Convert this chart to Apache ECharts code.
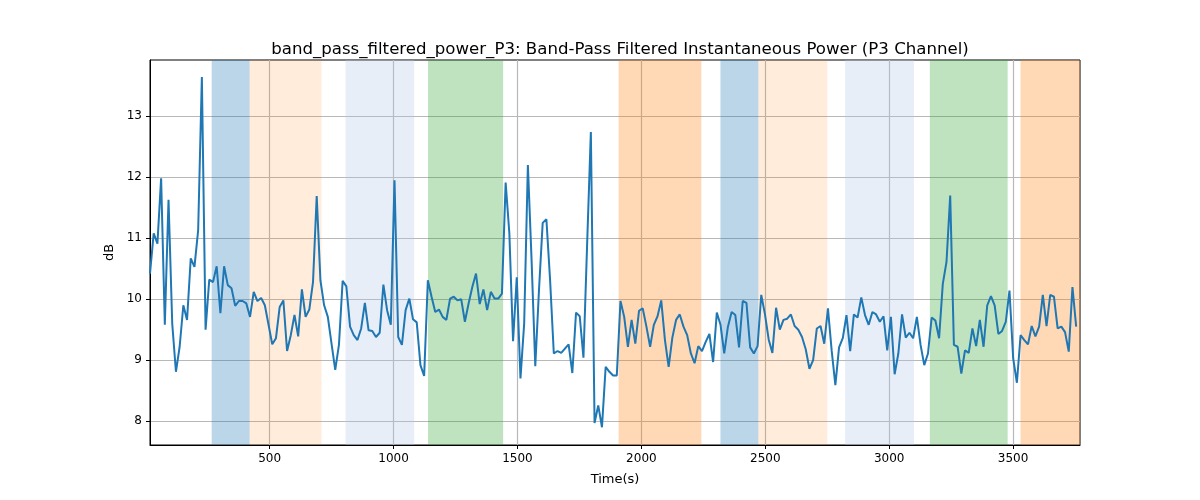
<!DOCTYPE html>
<html>
<head>
<meta charset="utf-8">
<script src="https://cdn.jsdelivr.net/npm/echarts@6/dist/echarts.min.js"></script>
<style>html,body{margin:0;padding:0;background:#fff}#main{width:1200px;height:500px}</style>
</head>
<body>
<div id="main"></div>
<script>
// sample grid
var tStart = 17, tStep = 14.95;
var power = [
  10.42,11.08,10.91,11.98,9.58,11.63,9.60,8.81,9.22,9.90,9.66,10.67,10.53,11.13,13.64,9.50,10.32,10.28,10.54,9.77,
  10.54,10.23,10.18,9.89,9.97,9.97,9.93,9.71,10.12,9.97,10.02,9.90,9.58,9.26,9.36,9.87,9.98,9.15,9.41,9.74,
  9.39,10.16,9.71,9.83,10.28,11.69,10.31,9.90,9.71,9.27,8.84,9.25,10.30,10.21,9.55,9.41,9.33,9.52,9.94,9.49,
  9.48,9.38,9.45,10.24,9.82,9.58,11.95,9.38,9.25,9.82,10.01,9.67,9.62,8.92,8.74,10.31,10.04,9.79,9.83,9.71,
  9.66,10.01,10.04,9.98,10.00,9.63,9.93,
  10.20,10.42,9.92,10.16,9.82,10.12,10.01,10.01,10.09,11.91,11.08,9.31,10.36,8.70,9.60,12.20,10.64,8.90,10.15,11.25,
  11.31,10.31,9.11,9.15,9.12,9.19,9.26,8.79,9.78,9.72,9.04,10.91,12.74,7.97,8.26,7.90,8.89,8.81,8.75,8.75,
  9.97,9.71,9.22,9.66,9.27,9.81,9.85,9.55,9.22,9.58,9.72,9.98,9.33,8.89,9.37,9.66,9.75,9.55,9.41,9.11,
  8.95,9.23,9.15,9.30,9.43,8.97,9.78,9.58,9.11,9.55,9.79,9.74,9.21,9.97,9.94,9.21,9.11,9.23,10.07,9.75,
  9.34,9.12,9.86,
  9.50,9.66,9.68,9.75,9.56,9.50,9.38,9.18,8.86,9.00,9.52,9.56,9.27,9.85,9.16,8.59,9.21,9.36,9.74,9.15,
  9.75,9.70,10.03,9.74,9.58,9.79,9.75,9.63,9.72,9.16,9.71,8.77,9.11,9.75,9.37,9.45,9.36,9.71,9.25,8.92,
  9.11,9.70,9.65,9.36,10.25,10.61,11.70,9.25,9.22,8.78,9.16,9.12,9.52,9.23,9.66,9.22,9.90,10.05,9.90,9.43,
  9.48,9.63,10.14,9.03,8.63,9.41,9.33,9.26,9.56,9.39,9.55,10.07,9.56,10.07,10.04,9.52,9.55,9.46,9.14,10.20,
  9.55
];
// shaded intervals [start, end, colour]
var bandStart = [266, 419, 806, 1139, 1908, 2319, 2472, 2822, 3164, 3530];
var bandEnd   = [419, 709, 1083, 1442, 2242, 2472, 2750, 3100, 3478, 3780];
var bandColor = ['rgba(31,119,180,0.3)','rgba(255,127,14,0.15)','rgba(174,199,232,0.3)','rgba(44,160,44,0.3)','rgba(255,127,14,0.3)',
                 'rgba(31,119,180,0.3)','rgba(255,127,14,0.15)','rgba(174,199,232,0.3)','rgba(44,160,44,0.3)','rgba(255,127,14,0.3)'];
var xTicks = [500, 1000, 1500, 2000, 2500, 3000, 3500];
var yTicks = [8, 9, 10, 11, 12, 13];

var points = [];
for (var i = 0; i < power.length; i++) points.push([tStart + i * tStep, power[i]]);
var areas = [];
for (var j = 0; j < bandStart.length; j++) {
  areas.push([{xAxis: bandStart[j], itemStyle: {color: bandColor[j]}}, {xAxis: bandEnd[j]}]);
}

var myChart = echarts.init(document.getElementById('main'));
var option = {
  animation: false,
  title: {
    text: 'band_pass_filtered_power_P3: Band-Pass Filtered Instantaneous Power (P3 Channel)',
    left: 615, top: 36, textAlign: 'center',
    textStyle: {fontFamily: 'DejaVu Sans', fontSize: 16.6, fontWeight: 'normal', color: '#000'}
  },
  grid: {left: 150, right: 120, top: 60, bottom: 55, show: true, borderColor: '#000', borderWidth: 1},
  xAxis: {
    type: 'value', min: 17, max: 3770,
    name: 'Time(s)', nameLocation: 'middle', nameGap: 28,
    nameTextStyle: {fontFamily: 'DejaVu Sans', fontSize: 13, color: '#000'},
    axisLine: {onZero: false, lineStyle: {color: '#000'}},
    axisTick: {customValues: xTicks, length: 4, lineStyle: {color: '#000'}},
    axisLabel: {customValues: xTicks, formatter: function (v) { return String(v); },
                fontFamily: 'DejaVu Sans', fontSize: 12, color: '#000'},
    splitLine: {show: true, lineStyle: {color: '#b8b8b8', width: 1.2}}
  },
  yAxis: {
    type: 'value', min: 7.61, max: 13.92,
    name: 'dB', nameLocation: 'middle', nameGap: 32,
    nameTextStyle: {fontFamily: 'DejaVu Sans', fontSize: 13, color: '#000'},
    axisLine: {show: true, onZero: false, lineStyle: {color: '#000'}},
    axisTick: {show: true, customValues: yTicks, length: 4, lineStyle: {color: '#000'}},
    axisLabel: {customValues: yTicks, fontFamily: 'DejaVu Sans', fontSize: 12, color: '#000'},
    splitLine: {show: true, lineStyle: {color: '#b8b8b8', width: 1.2}}
  },
  series: [{
    type: 'line', data: points, showSymbol: false,
    lineStyle: {color: '#1f77b4', width: 2}, z: 5,
    markArea: {silent: true, data: areas}
  }]
};
myChart.setOption(option);
</script>
</body>
</html>
